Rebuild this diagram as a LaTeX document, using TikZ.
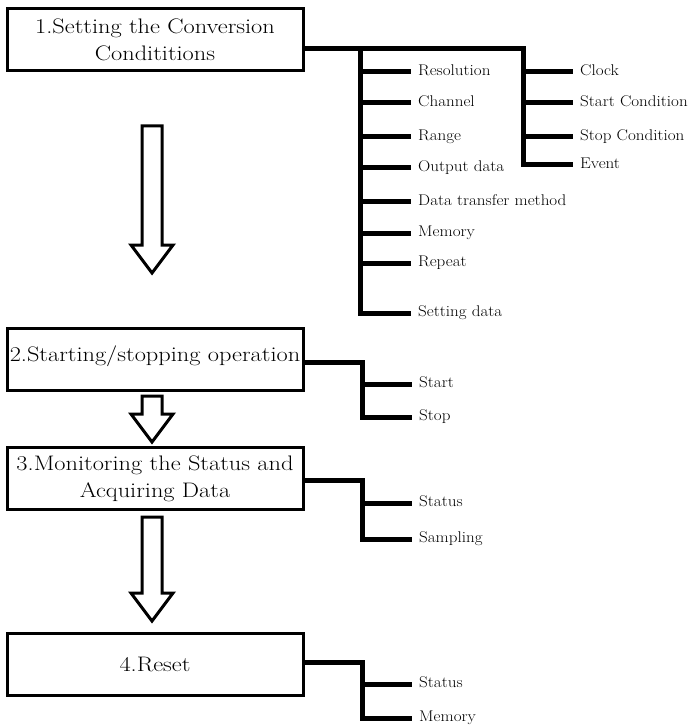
\documentclass[tikz,border=0pt]{standalone}
\usepackage{graphicx}
\newcommand{\wbox}[1]{\scalebox{1.16}[1]{#1}}
\newcommand{\wlbl}[1]{\scalebox{1.1}[1]{#1}}
\begin{document}
\begin{tikzpicture}[x=1pt,y=-1pt,
  box/.style={draw,line width=3pt,minimum width=296pt,minimum height=62pt,inner sep=0pt,align=center,font=\fontsize{21}{27}\selectfont},
  conn/.style={line width=5pt},
  lbl/.style={anchor=west,inner xsep=7pt,inner ysep=0pt,text height=1.5ex,text depth=0pt,font=\fontsize{15.5}{17}\selectfont},
  blockarrow/.style={draw,line width=3pt,fill=white,line join=miter}]
\useasboundingbox (0,0) rectangle (698,727);
% boxes
\node[box] (b1) at (155,40) {\wbox{1.Setting the Conversion}\hspace{12pt}\\\wbox{Condititions}};
\node[box] (b2) at (155,359) {\raisebox{10pt}{\wbox{2.Starting/stopping operation}}};
\node[box] (b3) at (155,478.5) {\wbox{3.Monitoring the Status and}\\\wbox{Acquiring Data}\hspace{10pt}};
\node[box] (b4) at (155,664.5) {\wbox{4.Reset}};
% block arrows
\draw[blockarrow] (142,126) -- (162,126) -- (162,245) -- (173,245) -- (152,273) -- (131,245) -- (142,245) -- cycle;
\draw[blockarrow] (142,396) -- (162,396) -- (162,414) -- (173,414) -- (152,442) -- (131,414) -- (142,414) -- cycle;
\draw[blockarrow] (142,517) -- (162,517) -- (162,593) -- (173,593) -- (152,621) -- (131,593) -- (142,593) -- cycle;
% group 1 labels
\node[lbl] (res) at (411,72) {\wlbl{Resolution}};
\node[lbl] (cha) at (411,103) {\wlbl{Channel}};
\node[lbl] (ran) at (411,137) {\wlbl{Range}};
\node[lbl] (out) at (411,168) {\wlbl{Output data}};
\node[lbl] (dtm) at (411,202) {\wlbl{Data transfer method}};
\node[lbl] (mem) at (411,233) {\wlbl{Memory}};
\node[lbl] (rep) at (411,263) {\wlbl{Repeat}};
\node[lbl] (sed) at (411,313) {\wlbl{Setting data}};
\node[lbl] (clk) at (573,72) {\wlbl{Clock}};
\node[lbl] (stc) at (573,103) {\wlbl{Start Condition}};
\node[lbl] (spc) at (573,137) {\wlbl{Stop Condition}};
\node[lbl] (evt) at (573,165) {\wlbl{Event}};
\coordinate (jA) at (360,49);
\coordinate (jB) at (523,49);
\draw[conn] ([yshift=-9pt]b1.east) -- (jB) |- (evt.west);
\draw[conn] (jA) |- (sed.west);
\foreach \n in {res,cha,ran,out,dtm,mem,rep}{\draw[conn] (\n.west -| jA) -- (\n.west);}
\foreach \n in {clk,stc,spc}{\draw[conn] (\n.west -| jB) -- (\n.west);}
% group 2
\node[lbl] (sta) at (412,384) {\wlbl{Start}};
\node[lbl] (sto) at (412,417) {\wlbl{Stop}};
\coordinate (j2) at (362,362);
\draw[conn] ([yshift=-3pt]b2.east) -- (j2) |- (sto.west);
\draw[conn] (sta.west -| j2) -- (sta.west);
% group 3
\node[lbl] (st3) at (412,503) {\wlbl{Status}};
\node[lbl] (sam) at (412,539) {\wlbl{Sampling}};
\coordinate (j3) at (362,480);
\draw[conn] ([yshift=-1.5pt]b3.east) -- (j3) |- (sam.west);
\draw[conn] (st3.west -| j3) -- (st3.west);
% group 4
\node[lbl] (st4) at (412,684) {\wlbl{Status}};
\node[lbl] (me4) at (412,718) {\wlbl{Memory}};
\coordinate (j4) at (362,662);
\draw[conn] ([yshift=2.5pt]b4.east) -- (j4) |- (me4.west);
\draw[conn] (st4.west -| j4) -- (st4.west);
\end{tikzpicture}
\end{document}
